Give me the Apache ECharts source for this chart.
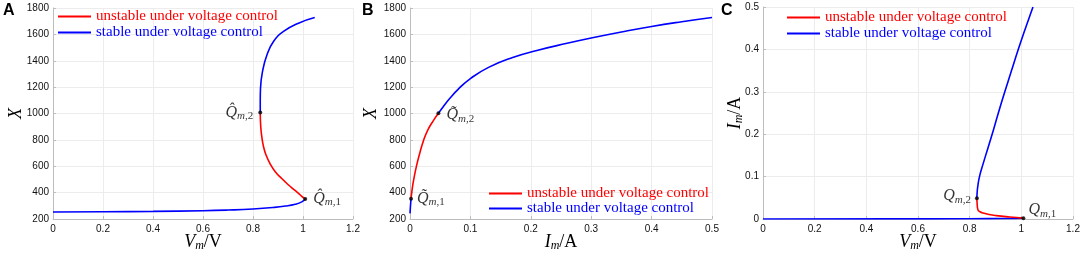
<!DOCTYPE html>
<html>
<head>
<meta charset="utf-8">
<script src="https://cdn.jsdelivr.net/npm/echarts@6/dist/echarts.min.js"></script>
<style>
html, body { margin: 0; padding: 0; background: #fff; }
#main { width: 1084px; height: 258px; }
</style>
</head>
<body>
<div id="main"></div>
<script>
// A: X vs Vm/V
var aLowV = [0, 0.2, 0.4, 0.6, 0.7, 0.8, 0.88, 0.93, 0.969, 0.995, 1.009];
var aLowX = [253, 255, 258, 263, 268, 276, 287, 298, 312, 330, 352];
var aRedV = [1.009, 0.995, 0.982, 0.963, 0.942, 0.916, 0.889, 0.868, 0.852, 0.842, 0.836, 0.831, 0.829];
var aRedX = [352, 372, 395, 425, 458, 505, 559, 620, 686, 750, 813, 900, 1008];
var aUpV = [0.829, 0.829, 0.830, 0.838, 0.856, 0.882, 0.922, 0.982, 1.047];
var aUpX = [1008, 1100, 1192, 1318, 1445, 1546, 1622, 1685, 1728];
var aPtV = [0.829, 1.009];
var aPtX = [1008, 352];

// B: X vs Im/A
var bLowI = [0, 0.0008, 0.0017];
var bLowX = [243, 300, 354];
var bRedI = [0.0017, 0.004, 0.007, 0.0105, 0.015, 0.022, 0.03, 0.04, 0.047];
var bRedX = [354, 440, 520, 597, 680, 790, 880, 955, 1002];
var bUpI = [0.047, 0.055, 0.065, 0.08, 0.1, 0.13, 0.17, 0.21, 0.26, 0.3, 0.35, 0.4, 0.45, 0.5];
var bUpX = [1002, 1052, 1110, 1185, 1265, 1350, 1425, 1478, 1532, 1572, 1618, 1660, 1696, 1728];
var bPtI = [0.0017, 0.047];
var bPtX = [354, 1002];

// C: Im/A vs Vm/V
var cLowV = [0, 0.5, 0.8, 0.95, 1.008];
var cLowI = [0, 0.0002, 0.0006, 0.0012, 0.002];
var cRedV = [1.008, 0.955, 0.903, 0.875, 0.852, 0.84, 0.832, 0.829, 0.828];
var cRedI = [0.002, 0.0047, 0.0079, 0.0105, 0.014, 0.017, 0.022, 0.035, 0.049];
var cUpV = [0.828, 0.8287, 0.831, 0.838, 0.852, 0.872, 0.892, 0.911, 0.936, 0.962, 0.988, 1.016, 1.045];
var cUpI = [0.049, 0.06, 0.075, 0.1, 0.13, 0.17, 0.21, 0.25, 0.3, 0.35, 0.4, 0.45, 0.5];
var cPtV = [0.828, 1.008];
var cPtI = [0.049, 0.002];

var nameUnstable = 'unstable under voltage control';
var nameStable = 'stable under voltage control';
var RED = '#ff0000', BLUE = '#0000ff';
var SERIF = 'Liberation Serif';
var SANS = 'Liberation Sans';

function zip(xs, ys) {
    return xs.map(function (x, i) { return [x, ys[i]]; });
}

var mathRich = {
    v: { fontFamily: SERIF, fontStyle: 'italic', fontSize: 18, color: '#000' },
    s: { fontFamily: SERIF, fontStyle: 'italic', fontSize: 12, color: '#000', padding: [8, 0, 0, 0] },
    r: { fontFamily: SERIF, fontSize: 18, color: '#000' },
    q: { fontFamily: SERIF, fontStyle: 'italic', fontSize: 16, color: '#000' },
    m: { fontFamily: SERIF, fontStyle: 'italic', fontSize: 11, color: '#000', padding: [7, 0, 0, 0] },
    n: { fontFamily: SERIF, fontSize: 11, color: '#000', padding: [7, 0, 0, 0] }
};

function valAxis(gi, min, max, interval, name, gap, isY) {
    return {
        type: 'value', gridIndex: gi, min: min, max: max, interval: interval,
        name: name, nameLocation: 'middle', nameGap: gap, nameMoveOverlap: false,
        nameTextStyle: { rich: mathRich },
        axisLine: { show: true, lineStyle: { color: '#bdbdbd', width: 1 } },
        axisTick: { show: true, inside: true, length: 3, lineStyle: { color: '#bdbdbd' } },
        axisLabel: {
            fontFamily: SANS, fontSize: 10, color: '#111', margin: isY ? 4 : 5,
            formatter: function (v) { return String(+v.toFixed(2)); }
        },
        splitLine: { show: true, lineStyle: { color: '#ececec', width: 1 } }
    };
}

function line(gi, name, color, data) {
    return {
        type: 'line', name: name, xAxisIndex: gi, yAxisIndex: gi, data: data,
        showSymbol: false, smooth: 0.5, color: color,
        lineStyle: { color: color, width: 1.6 }, z: 3
    };
}

function points(gi, data, labels) {
    return {
        type: 'scatter', xAxisIndex: gi, yAxisIndex: gi, symbolSize: 4,
        itemStyle: { color: '#000' }, z: 5,
        data: data.map(function (p, i) {
            return { value: p, label: labels[i] };
        })
    };
}

function ptLabel(txt, pos, dist, offset) {
    return {
        show: true, position: pos, distance: dist, offset: offset || [0, 0],
        formatter: txt, rich: mathRich
    };
}

function legend(left, top, gap) {
    return {
        orient: 'vertical', left: left, top: top, padding: 0, itemGap: gap,
        icon: 'rect', itemWidth: 33, itemHeight: 2,
        textStyle: { fontFamily: SERIF, fontSize: 15, lineHeight: 15 },
        data: [
            { name: nameUnstable, textStyle: { color: RED } },
            { name: nameStable, textStyle: { color: BLUE } }
        ]
    };
}

var hatQ = 'Q\u0302', tilQ = 'Q\u0303';

var option = {
    animation: false,
    backgroundColor: '#fff',
    grid: [
        { left: 53, top: 8, width: 300, height: 211, outerBoundsMode: 'none' },
        { left: 410, top: 8, width: 302, height: 211, outerBoundsMode: 'none' },
        { left: 763, top: 7, width: 310, height: 212, outerBoundsMode: 'none' }
    ],
    xAxis: [
        valAxis(0, 0, 1.2, 0.2, '{v|V}{s|m}{r|/V}', 13, false),
        valAxis(1, 0, 0.5, 0.1, '{v|I}{s|m}{r|/A}', 13, false),
        valAxis(2, 0, 1.2, 0.2, '{v|V}{s|m}{r|/V}', 13, false)
    ],
    yAxis: [
        valAxis(0, 200, 1800, 200, '{v|X}', 28, true),
        valAxis(1, 200, 1800, 200, '{v|X}', 30, true),
        valAxis(2, 0, 0.5, 0.1, '{v|I}{s|m}{r|/A}', 18, true)
    ],
    legend: [
        legend(58, 9, 1),
        legend(489, 186, 0),
        legend(787, 10, 1)
    ],
    graphic: [
        { type: 'text', left: 3, top: 3, style: { text: 'A', font: 'bold 16px ' + SANS, fill: '#000' } },
        { type: 'text', left: 362, top: 3, style: { text: 'B', font: 'bold 16px ' + SANS, fill: '#000' } },
        { type: 'text', left: 721, top: 3, style: { text: 'C', font: 'bold 16px ' + SANS, fill: '#000' } }
    ],
    series: [
        line(0, nameStable, BLUE, zip(aLowV, aLowX)),
        line(0, nameUnstable, RED, zip(aRedV, aRedX)),
        line(0, nameStable, BLUE, zip(aUpV, aUpX)),
        points(0, zip(aPtV, aPtX), [
            ptLabel('{q|' + hatQ + '}{m|m}{n|,2}', 'left', 5),
            ptLabel('{q|' + hatQ + '}{m|m}{n|,1}', 'right', 6)
        ]),

        line(1, nameStable, BLUE, zip(bLowI, bLowX)),
        line(1, nameUnstable, RED, zip(bRedI, bRedX)),
        line(1, nameStable, BLUE, zip(bUpI, bUpX)),
        points(1, zip(bPtI, bPtX), [
            ptLabel('{q|' + tilQ + '}{m|m}{n|,1}', 'right', 4),
            ptLabel('{q|' + tilQ + '}{m|m}{n|,2}', 'right', 6, [0, 2])
        ]),

        line(2, nameStable, BLUE, zip(cLowV, cLowI)),
        line(2, nameUnstable, RED, zip(cRedV, cRedI)),
        line(2, nameStable, BLUE, zip(cUpV, cUpI)),
        points(2, zip(cPtV, cPtI), [
            ptLabel('{q|Q}{m|m}{n|,2}', 'left', 4, [0, -2]),
            ptLabel('{q|Q}{m|m}{n|,1}', 'right', 3, [0, -8])
        ])
    ]
};

var chart = echarts.init(document.getElementById('main'));
chart.setOption(option);
</script>
</body>
</html>
